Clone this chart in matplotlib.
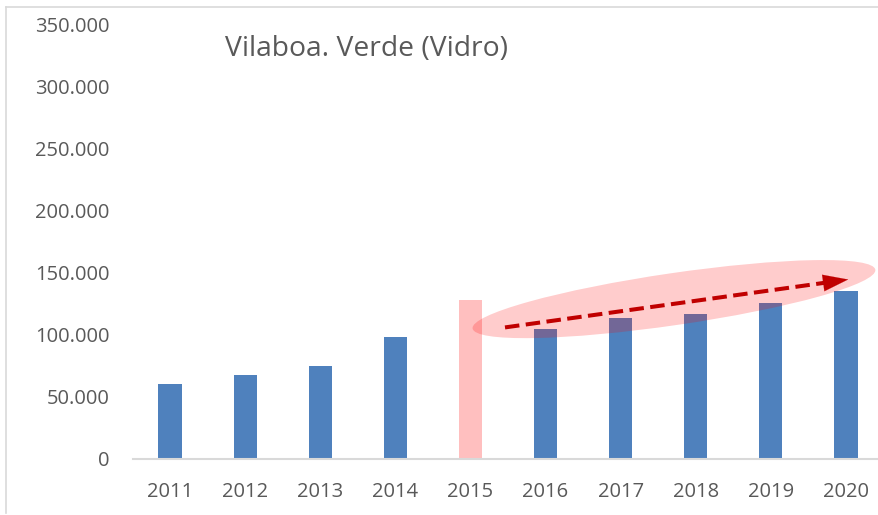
import matplotlib

matplotlib.use("Agg")
import matplotlib.pyplot as plt
from matplotlib.lines import Line2D
from matplotlib.patches import Ellipse
from matplotlib.ticker import FuncFormatter
from matplotlib.transforms import ScaledTranslation

# data
years = ["2011", "2012", "2013", "2014", "2015", "2016", "2017", "2018", "2019", "2020"]
values = [60000, 67200, 74600, 98200, 127700, 104600, 113000, 116400, 125000, 135200]
highlight_year = "2015"

title = "Vilaboa. Verde (Vidro)"
y_ticks = [0, 50000, 100000, 150000, 200000, 250000, 300000, 350000]

# trend annotation (data coords: category index, value)
trend_start = (4.46, 105700)
trend_end = (9.03, 144300)
ellipse_center = (6.71, 128500)

BLUE = "#4f81bd"
PINK = "#ffbfbf"
TEXT = "#595959"
AXIS = "#d9d9d9"
ARROW = "#c00000"

plt.rcParams["font.family"] = ["Open Sans", "DejaVu Sans"]

fig = plt.figure(figsize=(8.79, 5.15), dpi=100)
ax = fig.add_axes([132.5 / 879, 1 - 458.7 / 515, 1 - 132.5 / 879, (458.7 - 24) / 515])

x = list(range(len(years)))
colors = [PINK if y == highlight_year else BLUE for y in years]
ax.bar(x, values, width=0.31, color=colors, zorder=2)

ax.set_xlim(-0.5, -0.5 + (879 - 132.5) / 75.1)
ax.set_ylim(0, 350000)
ax.set_yticks(y_ticks)
ax.yaxis.set_major_formatter(FuncFormatter(lambda v, _: f"{int(v):,}".replace(",", ".")))
ax.set_xticks(x)
ax.set_xticklabels(years)
ax.tick_params(axis="y", length=0, pad=16.5, labelsize=14.5, labelcolor=TEXT)
ax.tick_params(axis="x", length=0, pad=16.5, labelsize=14.5, labelcolor=TEXT)

for side in ["top", "right", "left"]:
    ax.spines[side].set_visible(False)
ax.spines["bottom"].set_color(AXIS)
ax.spines["bottom"].set_linewidth(1.5)

# highlight ellipse, sized in pixels, centred in data coords
ell = Ellipse((0, 0), width=4.07, height=0.52, angle=8.3,
              facecolor="red", alpha=0.2, edgecolor="none", zorder=3,
              transform=fig.dpi_scale_trans + ScaledTranslation(*ellipse_center, ax.transData))
ax.add_patch(ell)

# dashed trend arrow: shaft + head
ax.plot([trend_start[0], trend_end[0] - 0.2], [trend_start[1], trend_end[1] - 1700],
        color=ARROW, lw=2.9, linestyle=(0, (3.6, 1.6)), zorder=4, solid_capstyle="butt")
ax.annotate("", xy=trend_end, xytext=(trend_end[0] - 0.3, trend_end[1] - 2550),
            arrowprops=dict(arrowstyle="-|>,head_length=0.9,head_width=0.3",
                            mutation_scale=20, color=ARROW, lw=0.1, shrinkA=0, shrinkB=0),
            zorder=5)

fig.text(224.6 / 879, 1 - 56 / 515, title, fontsize=20.3, color=TEXT, va="baseline", ha="left")

# chart frame (left and top edges)
fig.add_artist(Line2D([6 / 879, 6 / 879], [1 - 513 / 515, 1 - 6.5 / 515], color=AXIS, lw=1.2))
fig.add_artist(Line2D([6 / 879, 1.0], [1 - 6.5 / 515, 1 - 6.5 / 515], color=AXIS, lw=1.2))

fig.savefig("out.png", dpi=100)
